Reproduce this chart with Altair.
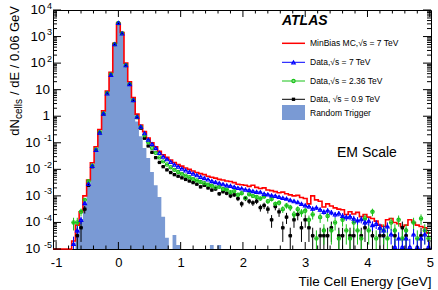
import altair as alt
import pandas as pd

# ---------------- data (log10 of dN/dE per 0.06 GeV) -------------
BIN = 0.06
centers = [round(BIN * k, 2) for k in range(-17, 84)]  # -1.02 ... 4.98

mc_log10 = [
    None, None, None, None, None,
    -4.7, -4.1, -3.6, -3.0, -2.4, -1.75, -1.15, -0.5, 0.2, 0.95, 1.65, 2.75, 3.5, 3.15, 2.0, 1.3, 0.7, 0.08,
    -0.33, -0.58, -0.82, -1.0, -1.15, -1.32, -1.45, -1.55, -1.65, -1.74,
    -1.82, -1.88, -1.95, -2.0, -2.06, -2.12, -2.16, -2.2, -2.26, -2.3,
    -2.33, -2.38, -2.4, -2.44, -2.46, -2.5, -2.56, -2.58, -2.6, -2.64,
    -2.6, -2.68, -2.72, -2.7, -2.78, -2.8, -2.84, -2.88, -2.86, -2.92,
    -2.96, -3.0, -2.98, -3.06, -3.1, -3.3, -3.0, -3.15, -3.2, -3.42,
    -3.3, -3.38, -3.45, -3.5, -3.52, -3.7, -3.6, -3.68, -3.62, -3.78,
    -3.7, -3.8, -3.85, -3.95, -4.1, -4.15, -3.9, -3.85, -4.0, -4.05,
    -4.15, -4.1, -3.9, -4.0, -4.1, -4.15, -4.2, -4.4,
]

data7_log10 = [
    None, None, None, None, None,
    -4.81, -4.3, -3.9, -3.27, -2.55, -1.87, -1.27, -0.62, 0.1, 0.86, 1.56, 2.71, 3.51, 3.12, 1.92, 1.21, 0.61, -0.02,
    -0.39, -0.64, -0.88, -1.05, -1.2, -1.38, -1.52, -1.62, -1.72, -1.82,
    -1.9, -1.97, -2.04, -2.1, -2.16, -2.22, -2.28, -2.33, -2.38, -2.44,
    -2.48, -2.52, -2.56, -2.6, -2.62, -2.66, -2.7, -2.72, -2.76, -2.78,
    -2.82, -2.85, -2.86, -2.92, -2.94, -2.98, -3.0, -3.04, -3.08, -3.1,
    -3.16, -3.2, -3.24, -3.3, -3.36, -3.4, -3.48, -3.44, -3.52, -3.6,
    -3.55, -3.62, -3.7, -3.66, -3.75, -3.8, -3.78, -3.86, -3.92, -3.88,
    -4.0, -3.95, -4.1, -4.05, -4.2, -4.3, -4.15, -4.45, -4.92, -4.6,
    -4.92, -4.6, -4.92, -4.45, -4.92, -4.6, -4.45, -4.92,
]

data236_log10 = [
    None, None, None, None, None,
    -4.0, -4.0, -3.6, -3.15, -2.45, -1.85, -1.25, -0.6, 0.1, 0.87, 1.57, 2.71, 3.5, 3.12, 1.92, 1.21, 0.6, -0.03,
    -0.4, -0.72, -0.98, -1.2, -1.38, -1.55, -1.7, -1.82, -1.92, -2.02,
    -2.1, -2.17, -2.24, -2.3, -2.36, -2.42, -2.48, -2.52, -2.58, -2.62,
    -2.68, -2.66, -2.74, -2.76, -2.86, -2.82, -2.96, -2.9, -3.08, -2.94,
    -3.0, -3.04, -3.1, -3.02, -3.2, -3.12, -3.3, -3.26, -3.5, -3.36,
    -3.44, -3.7, -3.5, -3.62, -3.56, -3.9, -3.7, -4.6, -3.8, -4.3,
    -3.76, -4.3, -4.0, -4.6, -3.9, -4.3, -4.6, -4.0, -4.3, -4.6,
    -3.85, -4.3, -3.6, -4.6, None, -4.3, -4.6, -4.0, -4.3, -3.9,
    -4.6, -4.3, None, -4.0, -4.6, -3.85, -4.3, -4.6,
]

data09_log10 = [
    None, None, None, None, None,
    None, -4.5, -4.2, -3.5, -2.6, -1.9, -1.28, -0.62, 0.09, 0.86, 1.56, 2.71, 3.51, 3.12, 1.92, 1.2, 0.6, -0.05,
    -0.45, -0.83, -1.12, -1.36, -1.56, -1.74, -1.9, -2.02, -2.12, -2.2,
    -2.26, -2.32, -2.38, -2.44, -2.5, -2.56, -2.66, -2.6, -2.7, -2.78,
    -2.74, -2.92, -2.84, -2.9, -3.0, -2.96, -3.1, -3.3, -3.1, -3.2,
    -3.26, -3.2, -3.44, -3.36, -3.5, -3.9, -3.4, -3.6, -4.2, -3.8,
    -4.5, -3.9, -3.7, -4.2, -3.9, -4.2, -4.5, None, -4.5, -4.5,
    -4.5, -4.2, None, -4.5, -4.5, None, -4.5, -4.5, None, -4.5,
    -4.2, None, -4.5, None, -4.5, -4.5, None, None, -4.5, None,
    -4.2, -4.5, None, None, None, -4.5, None, None,
]

random_log10 = [
    None, None, None, None, None,
    None, -4.3, -3.9, -3.3, -2.6, -1.9, -1.3, -0.65, 0.08, 0.85, 1.55, 2.7, 3.5, 3.1, 1.9, 1.2, 0.55, -0.2,
    -0.75, -1.2, -1.57, -2.1, -2.6, -3.04, -3.79, -4.58, None, -4.47,
    -4.85, None, None, None, None, None, None, None, None, -4.85,
    None, -4.85, None, None, None, None, None, None, None, None,
] + [None] * 48

# statistical weight of one cell entry for each data sample (single-entry level)
unit_log10 = {"7": -4.92, "2.36": -4.6, "0.9": -4.5}

# ---------------- layout / style ----------------
W, H = 378, 239
RED, BLUE, GREEN, BLACK, FILL = "#FF0000", "#0000FF", "#19C219", "#000000", "#7A9AD4"
FONT = "Liberation Sans"

xs = alt.Scale(domain=[-1.05, 5.02], nice=False, zero=False)
ys = alt.Scale(type="log", domain=[1e-5, 1e4], nice=False, clamp=True)

xaxis = alt.Axis(
    values=[-1, 0, 1, 2, 3, 4, 5],
    labelExpr="datum.value < 0 ? '-' + abs(datum.value) : '' + datum.value",
    labelFont=FONT, labelFontSize=13, labelColor="black", labelPadding=7,
    ticks=False, domain=False, grid=False, labelFlush=False,
    title="Tile Cell Energy [GeV]", titleFont=FONT, titleFontSize=13.5,
    titleFontWeight="normal", titleColor="black", titleAnchor="end", titlePadding=5,
)


def X(field):
    return alt.X(field, type="quantitative", scale=xs, axis=xaxis)


def Y(field):
    return alt.Y(field, type="quantitative", scale=ys, axis=None)


def step_table(logs):
    rows = []
    for c, v in zip(centers, logs):
        rows.append({"x": c - BIN / 2, "y": 1e-7 if v is None else 10 ** v})
    rows.append({"x": centers[-1] + BIN / 2, "y": rows[-1]["y"]})
    return pd.DataFrame(rows)


def point_table(logs, unit):
    w = 10 ** unit
    rows = []
    for c, v in zip(centers, logs):
        if v is None:
            continue
        val = 10 ** v
        err = (val * w) ** 0.5
        rows.append({"x": c, "y": val, "lo": max(val - err, 1e-7), "hi": val + err,
                     "xlo": c - BIN / 2, "xhi": c + BIN / 2})
    return pd.DataFrame(rows)


layers = []

# Random trigger filled histogram
rt = step_table(random_log10)
layers.append(alt.Chart(rt).mark_area(interpolate="step-after", color=FILL, opacity=1).encode(
    x=X("x"), y=Y("y"), y2=alt.value(H)))

# MC histogram
mc = step_table(mc_log10)
layers.append(alt.Chart(mc).mark_line(interpolate="step-after", color=RED, strokeWidth=1.6).encode(
    x=X("x"), y=Y("y")))

# data points with error bars
series = [
    (data09_log10, unit_log10["0.9"], BLACK, "square"),
    (data236_log10, unit_log10["2.36"], GREEN, "circle"),
    (data7_log10, unit_log10["7"], BLUE, "triangle-up"),
]
for logs, unit, col, shp in series:
    t = point_table(logs, unit)
    layers.append(alt.Chart(t).mark_rule(color=col, strokeWidth=1).encode(x=X("x"), y=Y("lo"), y2="hi"))
    layers.append(alt.Chart(t).mark_rule(color=col, strokeWidth=1).encode(x=X("xlo"), x2="xhi", y=Y("y")))
for logs, unit, col, shp in series:
    t = point_table(logs, unit)
    if shp == "square":
        m = alt.Chart(t).mark_point(shape="square", filled=True, size=11, color=col, opacity=1)
    elif shp == "circle":
        m = alt.Chart(t).mark_point(shape=shp, filled=False, size=11, strokeWidth=1.1, color=col, opacity=1)
    else:
        m = alt.Chart(t).mark_point(shape=shp, filled=False, size=13, strokeWidth=1.1, color=col, opacity=1)
    layers.append(m.encode(x=X("x"), y=Y("y")))

# ---------------- frame ticks (ROOT style, inward on all sides) ----------------
xmaj = pd.DataFrame({"t": [-1, 0, 1, 2, 3, 4, 5]})
xmin = pd.DataFrame({"t": [round(-1 + 0.2 * i, 2) for i in range(31) if i % 5 != 0]})
ymaj = pd.DataFrame({"t": [10.0 ** n for n in range(-5, 5)]})
ymin = pd.DataFrame({"t": [m * 10.0 ** n for n in range(-5, 4) for m in range(2, 10)]})

for df, L in ((xmaj, 7), (xmin, 3.5)):
    layers.append(alt.Chart(df).mark_rule(color="black").encode(x=X("t"), y=alt.value(H), y2=alt.value(H - L)))
    layers.append(alt.Chart(df).mark_rule(color="black").encode(x=X("t"), y=alt.value(0), y2=alt.value(L)))
for df, L in ((ymaj, 8), (ymin, 4)):
    layers.append(alt.Chart(df).mark_rule(color="black").encode(y=Y("t"), x=alt.value(0), x2=alt.value(L)))
    layers.append(alt.Chart(df).mark_rule(color="black").encode(y=Y("t"), x=alt.value(W), x2=alt.value(W - L)))

# ---------------- y tick labels (10 with superscript exponent) ----------------
exps = list(range(-5, 5))
ylab = pd.DataFrame({
    "v": [10.0 ** n for n in exps],
    "base": ["1" if n == 0 else "10" for n in exps],
    "exp": ["" if n in (0, 1) else ("-" + str(-n) if n < 0 else str(n)) for n in exps],
})
ylab["bx"] = [-3 if e == "" else -2 - 5.4 * len(e) for e in ylab["exp"]]
layers.append(alt.Chart(ylab).mark_text(font=FONT, fontSize=13.5, align="right", baseline="middle", color="black").encode(
    y=Y("v"), x=alt.X("bx:Q", scale=None), text="base:N"))
layers.append(alt.Chart(ylab).mark_text(font=FONT, fontSize=9, align="right", baseline="middle", dy=-4.5, color="black").encode(
    y=Y("v"), x=alt.value(-1), text="exp:N"))

one = pd.DataFrame({"a": [0]})


def txt(s, x, y, **kw):
    return alt.Chart(one).mark_text(text=s, font=FONT, color="black", **kw).encode(x=alt.value(x), y=alt.value(y))


# y title: dN_cells / dE / 0.06 GeV (rotated)
layers.append(txt(" / dE / 0.06 GeV", -38, -4, fontSize=13, angle=270, align="right", baseline="middle"))
layers.append(txt("cells", -34, 89, fontSize=10, angle=270, align="right", baseline="middle"))
layers.append(txt("dN", -38, 109, fontSize=13, angle=270, align="right", baseline="middle"))

# ATLAS label and EM scale
layers.append(txt("ATLAS", 229, 11, fontSize=14, fontWeight="bold", fontStyle="italic", align="left", baseline="middle"))
layers.append(txt("EM Scale", 284, 143, fontSize=14, align="left", baseline="middle"))

# legend
LX1, LX2, LXM, LT = 229, 252, 240.5, 257
rows_y = [33.3, 52.3, 71, 89.3, 102.5]
labels = ["MinBias MC,√s = 7 TeV", "Data,√s = 7 TeV", "Data,√s = 2.36 TeV", "Data, √s = 0.9 TeV", "Random Trigger"]
for yy, col in zip(rows_y[:4], [RED, BLUE, GREEN, BLACK]):
    layers.append(alt.Chart(one).mark_rule(color=col, strokeWidth=1.5 if col == RED else 1).encode(
        x=alt.value(LX1), x2=alt.value(LX2), y=alt.value(yy)))
layers.append(alt.Chart(one).mark_point(shape="triangle-up", filled=False, size=13, strokeWidth=1.1, color=BLUE, opacity=1).encode(
    x=alt.value(LXM), y=alt.value(rows_y[1])))
layers.append(alt.Chart(one).mark_point(shape="circle", filled=False, size=11, strokeWidth=1.1, color=GREEN, opacity=1).encode(
    x=alt.value(LXM), y=alt.value(rows_y[2])))
layers.append(alt.Chart(one).mark_point(shape="square", filled=True, size=11, color=BLACK, opacity=1).encode(
    x=alt.value(LXM), y=alt.value(rows_y[3])))
layers.append(alt.Chart(one).mark_rect(color=FILL).encode(
    x=alt.value(LX1), x2=alt.value(LX2), y=alt.value(95), y2=alt.value(110)))
for yy, s in zip(rows_y, labels):
    layers.append(txt(s, LT, yy, fontSize=8.5, align="left", baseline="middle"))

chart = alt.layer(*layers).properties(
    width=W, height=H,
    autosize=alt.AutoSizeParams(type="none"),
    padding={"left": 53, "top": 10, "right": 7, "bottom": 41},
    background="white",
).configure_view(stroke="black", strokeWidth=1)

chart.save("out.html", embed_options={"renderer": "svg", "actions": False})
